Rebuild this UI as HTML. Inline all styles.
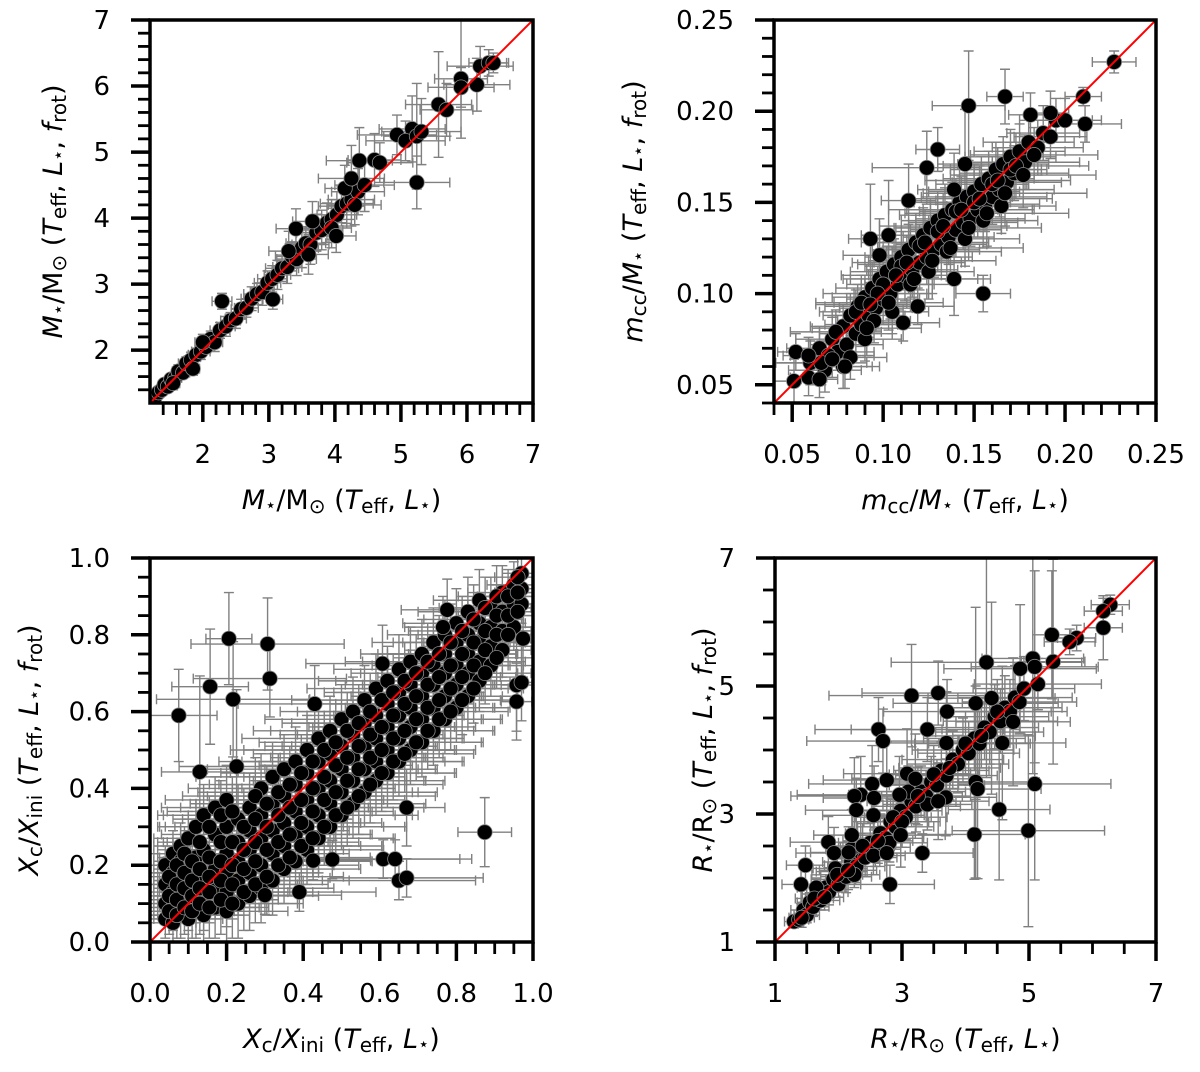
<!DOCTYPE html>
<html><head><meta charset="utf-8"><title>Scatter comparison</title>
<style>
html,body{margin:0;padding:0;background:#fff;}
svg{display:block;font-family:"DejaVu Sans","Liberation Sans",sans-serif;}
</style></head>
<body>
<svg id="fig" width="1200" height="1072" viewBox="0 0 1200 1072" xmlns="http://www.w3.org/2000/svg"></svg>
<script>
// ---------- Panel 1: stellar mass ----------
const massPts = [
[1.28,1.30,.06,.06],[1.33,1.36,.07,.06],[1.38,1.40,.08,.07],[1.42,1.48,.07,.08],[1.47,1.45,.08,.07],[1.52,1.56,.08,.08],[1.58,1.58,.1,.08],[1.63,1.68,.09,.1],[1.70,1.66,.1,.08],[1.75,1.80,.12,.1],[1.82,1.85,.1,.12],[1.90,1.93,.12,.1],[1.85,1.72,.1,.1],[1.97,1.98,.14,.12],[2.05,2.05,.12,.1],[2.12,2.17,.15,.12],[2.18,2.12,.12,.14],[2.26,2.30,.15,.12],[2.35,2.36,.14,.15],[2.42,2.45,.15,.12],[2.50,2.48,.16,.15],[2.58,2.62,.15,.15],[2.66,2.64,.18,.14],[2.74,2.78,.16,.18],[2.82,2.85,.2,.16],[2.90,2.88,.18,.2],[2.98,3.02,.2,.18],[3.05,3.08,.22,.2],[3.13,3.14,.2,.22],[3.20,3.24,.25,.2],[3.28,3.26,.22,.25],[3.35,3.42,.25,.22],[3.42,3.38,.3,.25],[3.50,3.55,.25,.3],[3.56,3.62,.3,.25],[3.63,3.60,.28,.3],[3.72,3.78,.3,.28],[3.80,3.82,.32,.3],[3.88,3.93,.3,.3],[3.95,3.98,.35,.3],[4.03,4.05,.3,.35],[4.10,4.18,.35,.3],[4.18,4.22,.4,.3],[4.25,4.28,.35,.4],[4.35,4.40,.4,.35],[4.45,4.50,.45,.4],
[2.00,2.12,.12,.12],[1.55,1.50,.1,.1],[3.30,3.50,.3,.3],[3.60,3.45,.3,.3],[3.95,3.85,.3,.3],[4.15,4.45,.3,.35],[4.30,4.20,.4,.3],
[2.29,2.74,.15,.12],[3.06,2.77,.15,.15],[3.41,3.84,.3,.3],[3.66,3.95,.3,.3],[4.02,3.73,.3,.25],[4.37,4.87,.5,.5],[4.60,4.88,.4,.4],[4.68,4.84,.5,.3],[4.25,4.60,.5,.5],[4.94,5.26,.6,.3],[5.17,5.35,.5,.5],[5.07,5.17,.6,.3],[5.24,5.24,.5,.8],[5.31,5.31,.6,.5],[5.24,4.54,.5,.4],[5.57,5.72,.5,.8],[5.69,5.64,.4,.4],[5.91,6.11,.4,.9],[5.91,5.98,.5,.3],[6.15,6.02,.5,.4],[6.20,6.30,.5,.3],[6.33,6.35,.3,.2],[6.40,6.35,.2,.15]
];
const massTicks = [2,3,4,5,6,7];
const massTickLabels = ["2","3","4","5","6","7"];

// ---------- Panel 2: convective core mass ----------
const mccPts = [
[.060,.062,.02,.012],[.065,.070,.018,.012],[.068,.058,.02,.012],[.072,.075,.02,.012],[.075,.068,.02,.01],[.078,.082,.018,.012],[.080,.072,.02,.012],[.082,.088,.015,.012],[.085,.078,.02,.012],[.086,.093,.018,.012],[.088,.083,.02,.012],[.090,.098,.018,.012],[.092,.088,.02,.012],[.094,.103,.02,.014],[.096,.092,.02,.012],[.098,.108,.02,.014],[.100,.097,.02,.014],[.102,.112,.02,.014],[.104,.100,.02,.014],[.106,.116,.02,.014],[.108,.105,.02,.014],[.110,.120,.02,.014],[.112,.110,.02,.014],[.114,.124,.02,.014],[.116,.113,.025,.015],[.118,.128,.02,.015],[.120,.117,.025,.015],[.122,.132,.02,.015],[.124,.120,.025,.015],[.126,.136,.02,.015],[.128,.124,.025,.015],[.130,.140,.02,.015],[.132,.127,.025,.015],[.134,.143,.025,.015],[.136,.131,.025,.015],[.138,.146,.025,.015],[.140,.135,.025,.015],[.142,.150,.025,.015],[.144,.139,.03,.015],[.146,.153,.025,.015],[.148,.141,.03,.015],[.150,.156,.025,.015],[.152,.146,.03,.015],[.154,.160,.025,.015],[.156,.149,.03,.015],[.158,.163,.025,.015],[.160,.153,.03,.015],[.162,.168,.025,.015],[.164,.157,.03,.015],[.166,.171,.025,.015],[.168,.161,.03,.015],[.170,.175,.025,.015],[.172,.166,.03,.015],[.175,.178,.025,.015],[.178,.172,.03,.015],[.180,.183,.025,.015],[.185,.180,.025,.015],[.188,.188,.02,.015],[.192,.186,.02,.012],[.195,.195,.02,.012],[.200,.195,.02,.012],
[.095,.085,.02,.012],[.105,.090,.02,.012],[.115,.105,.025,.015],[.125,.112,.025,.015],[.135,.123,.03,.015],[.145,.130,.03,.015],[.155,.140,.03,.015],[.165,.148,.03,.015],[.100,.105,.02,.012],[.110,.115,.02,.012],[.120,.126,.02,.012],[.130,.134,.02,.015],[.090,.075,.02,.012],[.085,.090,.02,.012],[.140,.145,.02,.015],[.150,.150,.02,.015],[.160,.160,.02,.015],[.170,.168,.02,.015],[.082,.065,.02,.012],[.078,.060,.02,.012],
[.088,.095,.025,.015],[.091,.081,.03,.015],[.097,.100,.03,.015],[.103,.095,.03,.015],[.107,.110,.03,.015],[.113,.117,.03,.015],[.117,.108,.035,.015],[.123,.128,.035,.018],[.127,.118,.035,.018],[.133,.137,.035,.018],[.137,.125,.04,.018],[.143,.146,.04,.018],[.147,.136,.04,.018],[.153,.152,.04,.018],[.157,.144,.045,.018],[.163,.162,.04,.018],[.167,.155,.045,.018],[.173,.170,.04,.018],[.177,.165,.04,.018],[.183,.176,.035,.015],[.070,.066,.025,.012],[.074,.079,.025,.012],[.066,.062,.025,.012],[.093,.094,.03,.012],
[.227,.227,.012,.006],[.210,.208,.01,.005],[.211,.193,.02,.01],[.192,.199,.01,.012],[.181,.198,.012,.012],[.167,.208,.01,.015],[.147,.203,.02,.03],[.145,.171,.015,.03],[.130,.179,.012,.012],[.124,.169,.03,.02],[.139,.157,.02,.02],[.114,.151,.015,.02],[.093,.130,.012,.03],[.103,.132,.015,.03],[.098,.121,.02,.02],[.155,.100,.015,.01],[.139,.108,.02,.02],[.119,.093,.02,.01],[.111,.084,.02,.01],[.052,.068,.01,.01],[.051,.052,.012,.012],[.059,.054,.01,.01],[.065,.053,.01,.01],[.079,.060,.015,.012],[.072,.064,.01,.01],[.059,.066,.01,.01]
];
const mccTicks = [0.05,0.10,0.15,0.20,0.25];
const mccTickLabels = ["0.05","0.10","0.15","0.20","0.25"];

// ---------- Panel 3: Xc/Xini ----------
const xcColX = [0.04,0.06,0.08,0.10,0.12,0.14,0.17,0.20,0.23,0.26,0.29,0.32,0.35,0.38,0.41,0.44,0.47,0.50,0.53,0.56,0.59,0.62,0.65,0.68,0.71,0.74,0.77,0.80,0.83,0.86,0.89,0.92,0.95,0.97];
const xcColY = [
[.06,.10,.15,.20],[.05,.09,.13,.18,.23],[.07,.12,.16,.21,.25],[.06,.10,.14,.19,.27],[.08,.12,.17,.22,.30],[.07,.11,.16,.24,.33],[.09,.14,.19,.28,.35],[.08,.13,.18,.23,.30,.37],[.10,.16,.21,.26,.32],[.12,.18,.24,.29,.35],[.14,.20,.27,.33,.40],[.16,.23,.29,.36,.43],[.19,.25,.31,.38,.45],[.21,.28,.34,.41,.47],[.24,.30,.37,.44,.50],[.27,.33,.40,.47,.53],[.30,.36,.42,.49,.55],[.33,.39,.45,.51,.58],[.36,.42,.48,.54,.60],[.39,.45,.51,.57,.63],[.42,.47,.53,.59,.66],[.44,.50,.56,.62,.68],[.47,.53,.59,.65,.71],[.50,.56,.61,.67,.73],[.52,.58,.64,.70,.75],[.55,.61,.67,.72,.78],[.58,.64,.70,.75,.80],[.61,.67,.72,.78,.83],[.64,.70,.75,.80,.86],[.68,.73,.78,.83,.89],[.72,.77,.82,.87],[.76,.81,.86,.91],[.82,.88,.93],[.88,.92,.96]
];
const xcColEx = [.05,.06,.07,.09,.1,.12,.14,.16,.17,.18,.19,.2,.2,.2,.2,.2,.2,.2,.19,.19,.18,.18,.17,.17,.16,.16,.15,.14,.13,.12,.11,.09,.07,.05];
const xcColEy = [.05,.06,.06,.07,.07,.08,.08,.09,.09,.09,.09,.09,.09,.09,.09,.09,.09,.09,.09,.09,.09,.09,.09,.09,.09,.09,.09,.09,.09,.08,.08,.07,.06,.05];
const xcColX2 = [0.05,0.07,0.09,0.11,0.13,0.155,0.185,0.215,0.245,0.275,0.305,0.335,0.365,0.395,0.425,0.455,0.485,0.515,0.545,0.575,0.605,0.635,0.665,0.695,0.725,0.755,0.785,0.815,0.845,0.875,0.905,0.935,0.96];
const xcColY2 = [
[.08,.12,.17],[.07,.11,.15,.20],[.09,.14,.18,.23],[.08,.12,.16,.21],[.10,.14,.19,.26],[.09,.13,.17,.22,.30],[.11,.16,.21,.26,.33],[.10,.15,.20,.26,.34],[.13,.19,.24,.30],[.15,.21,.26,.32,.38],[.17,.24,.30,.36],[.20,.26,.33,.39],[.22,.28,.35,.41],[.25,.31,.37,.44],[.27,.34,.40,.47],[.30,.37,.43,.50],[.33,.39,.46,.52],[.35,.42,.48,.55],[.38,.45,.51,.57],[.41,.48,.54,.60],[.44,.50,.56,.63],[.47,.53,.59,.65],[.49,.55,.62,.68],[.52,.58,.64,.70],[.55,.61,.67,.73],[.58,.63,.69,.75],[.60,.66,.72,.78],[.63,.69,.75,.81],[.66,.72,.78,.84],[.70,.76,.81,.87],[.74,.80,.85,.90],[.80,.85,.90],[.86,.91,.95]
];
const xcColEx2 = [.06,.07,.08,.1,.11,.13,.15,.17,.18,.19,.2,.21,.21,.21,.21,.21,.2,.2,.2,.19,.19,.18,.18,.17,.17,.16,.15,.14,.13,.12,.1,.08,.06];
const xcColEy2 = [.06,.06,.07,.07,.08,.08,.09,.09,.1,.1,.1,.1,.1,.1,.1,.1,.1,.1,.1,.1,.1,.1,.1,.1,.1,.1,.1,.09,.09,.08,.08,.07,.06];
const xcOutliers = [
[.075,.59,.1,.12],[.206,.79,.06,.12],[.307,.776,.2,.12],[.313,.686,.2,.1],[.157,.665,.1,.15],[.217,.632,.2,.15],[.13,.443,.1,.25],[.226,.457,.15,.2],[.43,.62,.2,.1],[.874,.286,.07,.09],[.609,.216,.2,.05],[.64,.216,.2,.05],[.65,.16,.2,.05],[.67,.167,.2,.05],[.67,.35,.1,.1],[.776,.865,.12,.08],[.765,.82,.1,.08],[.974,.79,.02,.1],[.957,.669,.04,.12],[.97,.676,.03,.1],[.957,.626,.04,.1],[.607,.725,.2,.1],[.426,.212,.15,.05],[.476,.215,.15,.05],[.39,.13,.2,.05],[.30,.122,.2,.05]
];
const xcTicks = [0,0.2,0.4,0.6,0.8,1.0];
const xcTickLabels = ["0.0","0.2","0.4","0.6","0.8","1.0"];

// ---------- Panel 4: radius ----------
const radPts = [
[1.30,1.32,.15,.1],[1.38,1.35,.15,.1],[1.45,1.50,.2,.12],[1.50,1.42,.2,.12],[1.55,1.62,.2,.15],[1.60,1.55,.25,.15],[1.68,1.75,.25,.15],[1.72,1.65,.3,.15],[1.80,1.85,.3,.2],[1.85,1.78,.3,.2],[1.92,1.98,.35,.2],[2.00,1.90,.35,.2],[2.05,2.10,.4,.2],[2.12,2.02,.4,.25],[2.20,2.25,.45,.25],[2.28,2.18,.45,.25],[2.35,2.40,.5,.3],[2.42,2.32,.5,.3],[2.50,2.55,.5,.3],[2.58,2.48,.55,.3],[2.66,2.70,.55,.3],[2.74,2.62,.6,.35],[2.82,2.88,.6,.35],[2.90,2.80,.6,.35],[2.98,3.05,.65,.35],[3.06,2.95,.65,.35],[3.15,3.20,.7,.4],[3.22,3.12,.7,.4],[3.30,3.35,.7,.4],[3.38,3.28,.7,.4],[3.46,3.50,.75,.4],[3.55,3.45,.75,.4],[3.62,3.68,.75,.45],[3.70,3.60,.8,.45],[3.80,3.85,.8,.45],[3.88,3.78,.8,.45],[3.96,4.00,.8,.5],[4.05,3.95,.8,.5],[4.14,4.18,.8,.5],[4.22,4.10,.8,.5],[4.30,4.35,.85,.5],[4.38,4.28,.85,.5],[4.46,4.52,.85,.5],[4.55,4.45,.9,.5],[4.62,4.66,.9,.5],[4.70,4.60,.9,.5],[4.78,4.82,.9,.5],[4.85,4.75,.9,.5],[4.92,4.96,.8,.5],[1.65,1.85,.3,.15],[1.95,2.15,.35,.2],[2.25,2.05,.4,.2],[2.55,2.35,.5,.3],[2.20,2.45,.4,.25],[2.80,2.55,.6,.3],[3.10,3.35,.6,.4],[3.40,3.15,.7,.4],
[1.42,1.38,.2,.15],[1.62,1.68,.3,.2],[1.78,1.70,.3,.2],[1.98,2.05,.4,.25],[2.15,2.12,.45,.3],[2.38,2.50,.5,.35],[2.62,2.58,.55,.35],[2.86,2.95,.6,.4],[3.00,2.88,.6,.4],[3.25,3.28,.7,.45],[3.50,3.62,.7,.45],[3.75,3.72,.8,.5],[4.00,4.10,.8,.5],[4.25,4.22,.85,.5],[4.50,4.60,.85,.5],
[6.28,6.27,.3,.15],[6.17,6.17,.3,.2],[6.17,5.91,.3,.5],[5.75,5.75,.3,.2],[5.64,5.69,.4,.2],[5.36,5.80,.3,1.0],[5.38,5.38,.5,1.6],[5.06,5.43,.8,1.8],[5.09,5.30,1.0,1.5],[4.86,5.27,1.2,1.0],[5.14,5.03,1.0,0.4],[4.33,5.37,1.5,1.8],[3.57,4.89,1.2,0.5],[3.15,4.85,1.3,0.8],[3.71,4.60,1.0,0.5],[4.41,4.81,1.0,1.5],[2.63,4.32,1.0,0.5],[2.70,4.14,1.2,0.5],[3.40,4.32,1.2,0.5],[3.70,4.11,1.0,0.8],[4.16,4.73,1.3,1.5],[4.58,4.11,1.0,1.2],[4.75,4.44,0.9,1.0],[5.09,3.47,1.2,1.5],[4.16,3.50,1.0,1.5],[4.19,3.39,1.0,1.4],[4.53,3.07,0.8,1.1],[4.99,2.74,1.2,1.5],[4.14,2.68,0.8,0.7],[3.32,2.39,0.8,0.3],[2.81,1.90,0.7,0.3],[2.76,2.39,0.6,0.5],[2.98,2.67,0.7,0.5],[2.53,3.47,1.0,0.6],[2.76,3.53,1.0,0.6],[2.35,3.30,1.0,0.6],[2.25,3.28,1.0,0.6],[2.56,3.25,0.8,0.5],[2.28,3.06,0.8,0.5],[2.55,2.98,0.8,0.5],[2.21,2.67,0.6,0.4],[1.84,2.56,0.6,0.4],[1.93,2.39,0.6,0.4],[2.16,2.40,0.6,0.4],[1.48,2.20,0.3,0.3],[1.41,1.90,0.3,0.3],[3.08,3.63,1.0,0.7],[3.21,3.55,1.0,0.7],[3.69,3.26,0.8,0.6],[3.57,3.20,0.8,0.6],[2.96,3.30,0.8,0.6]
];
const radTicks = [1,3,5,7];
const radTickLabels = ["1","3","5","7"];

// ---------- drawing ----------
const NS = "http://www.w3.org/2000/svg";
const svg = document.getElementById("fig");
function mk(tag, attrs, parent){
  const e = document.createElementNS(NS, tag);
  for (const k in attrs) e.setAttribute(k, attrs[k]);
  (parent||svg).appendChild(e);
  return e;
}

function drawPanel(o){
  const g = mk("g", {});
  
  
  const {x0,x1,y0,y1} = o.box;
  const sx = v => x0 + (v - o.min) / (o.max - o.min) * (x1 - x0);
  const sy = v => y1 - (v - o.min) / (o.max - o.min) * (y1 - y0);
  const cid = o.name + "-clip";
  const defs = mk("defs", {}, g);
  const cp = mk("clipPath", {id: cid}, defs);
  mk("rect", {x:x0, y:y0, width:x1-x0, height:y1-y0}, cp);
  const plot = mk("g", {"clip-path": "url(#"+cid+")"}, g);
  const eb = mk("g", {stroke:"#808080", "stroke-width":1.4, fill:"none"}, plot);
  
  
  const cap = 5;
  o.pts.forEach(p => {
    const cx = sx(p[0]), cy = sy(p[1]);
    const xa = sx(p[0]-p[2]), xb = sx(p[0]+p[2]);
    const ya = sy(p[1]-p[3]), yb = sy(p[1]+p[3]);
    const d = `M${xa},${cy}H${xb}M${xa},${cy-cap}V${cy+cap}M${xb},${cy-cap}V${cy+cap}` +
              `M${cx},${ya}V${yb}M${cx-cap},${ya}H${cx+cap}M${cx-cap},${yb}H${cx+cap}`;
    mk("path", {d}, eb);
  });
  const pg = mk("g", {fill:"#000", stroke:"#888", "stroke-width":0.8}, plot);
  
  
  o.pts.forEach(p => {
    const c = mk("circle", {cx:sx(p[0]), cy:sy(p[1]), r:7.5}, pg);
    
    
  });
  const ln = mk("line", {x1:sx(o.min), y1:sy(o.min), x2:sx(o.max), y2:sy(o.max), stroke:"#ff0000", "stroke-width":2}, plot);
  
  
  const fr = mk("rect", {x:x0, y:y0, width:x1-x0, height:y1-y0, fill:"none", stroke:"#000", "stroke-width":3.5}, g);
  
  
  const tg = mk("g", {stroke:"#000"}, g);
  for (let v = o.minorStart; v <= o.max + 1e-9; v += o.minorStep) {
    const X = sx(v), Y = sy(v);
    mk("line", {x1:X, y1:y1, x2:X, y2:y1+12, "stroke-width":2.8}, tg);
    mk("line", {x1:x0, y1:Y, x2:x0-12, y2:Y, "stroke-width":2.8}, tg);
  }
  o.ticks.forEach((v,i) => {
    const X = sx(v), Y = sy(v);
    mk("line", {x1:X, y1:y1, x2:X, y2:y1+19, "stroke-width":3.5}, tg);
    mk("line", {x1:x0, y1:Y, x2:x0-19, y2:Y, "stroke-width":3.5}, tg);
    const tx = mk("text", {x:X, y:y1+60, "font-size":26, "text-anchor":"middle", fill:"#000"}, g);
    tx.textContent = o.labels[i];
    
    
    const ty = mk("text", {x:x0-40, y:Y+9, "font-size":26, "text-anchor":"end", fill:"#000"}, g);
    ty.textContent = o.labels[i];
    
    
  });
  const xt = mk("text", {x:(x0+x1)/2, y:y1+106, "font-size":27, "text-anchor":"middle", fill:"#000"}, g);
  xt.innerHTML = o.xtitle;
  
  
  const yx = o.ytx, yy = (y0+y1)/2;
  const yt = mk("text", {x:yx, y:yy, "font-size":27, "text-anchor":"middle", fill:"#000", transform:`rotate(-90 ${yx} ${yy})`}, g);
  yt.innerHTML = o.ytitle;
  
  
}

const I = s => `<tspan font-style="italic">${s}</tspan>`;
const sub = s => `<tspan baseline-shift="-20%" font-size="20">${s}</tspan>`;
const star = `<tspan font-size="18" baseline-shift="-12%">⋆</tspan>`;
const teff = `${I("T")}${sub("eff")}`;
const Lst = `${I("L")}${star}`;
const frot = `${I("f")}${sub("rot")}`;
const base2 = ` (${teff}, ${Lst})`;
const base3 = ` (${teff}, ${Lst}, ${frot})`;
const mlab = `${I("M")}${star}/M${sub("⊙")}`;
const mcclab = `${I("m")}${sub("cc")}/${I("M")}${star}`;
const xclab = `${I("X")}${sub("c")}/${I("X")}${sub("ini")}`;
const rlab = `${I("R")}${star}/R${sub("⊙")}`;

drawPanel({name:"mass-panel", box:{x0:150,x1:533,y0:20,y1:403}, min:1.2, max:7, ticks:massTicks, labels:massTickLabels,
  minorStart:1.4, minorStep:0.2, pts:massPts, xtitle:mlab+base2, ytitle:mlab+base3, ytx:62});
drawPanel({name:"core-mass-panel", box:{x0:774,x1:1156,y0:20,y1:403}, min:0.04, max:0.25, ticks:mccTicks, labels:mccTickLabels,
  minorStart:0.04, minorStep:0.01, pts:mccPts, xtitle:mcclab+base2, ytitle:mcclab+base3, ytx:642});
const xcPts = [];
xcColX.forEach((x,i) => xcColY[i].forEach(y => xcPts.push([x, y, xcColEx[i], xcColEy[i]])));
xcColX2.forEach((x,i) => xcColY2[i].forEach(y => xcPts.push([x, y, xcColEx2[i], xcColEy2[i]])));
xcOutliers.forEach(p => xcPts.push(p));
drawPanel({name:"xc-panel", box:{x0:150,x1:533,y0:558,y1:942}, min:0, max:1, ticks:xcTicks, labels:xcTickLabels,
  minorStart:0.05, minorStep:0.05, pts:xcPts, xtitle:xclab+base2, ytitle:xclab+base3, ytx:38});
drawPanel({name:"radius-panel", box:{x0:775,x1:1156,y0:558,y1:942}, min:1, max:7, ticks:radTicks, labels:radTickLabels,
  minorStart:1.5, minorStep:0.5, pts:radPts, xtitle:rlab+base2, ytitle:rlab+base3, ytx:712});
</script>
</body></html>
